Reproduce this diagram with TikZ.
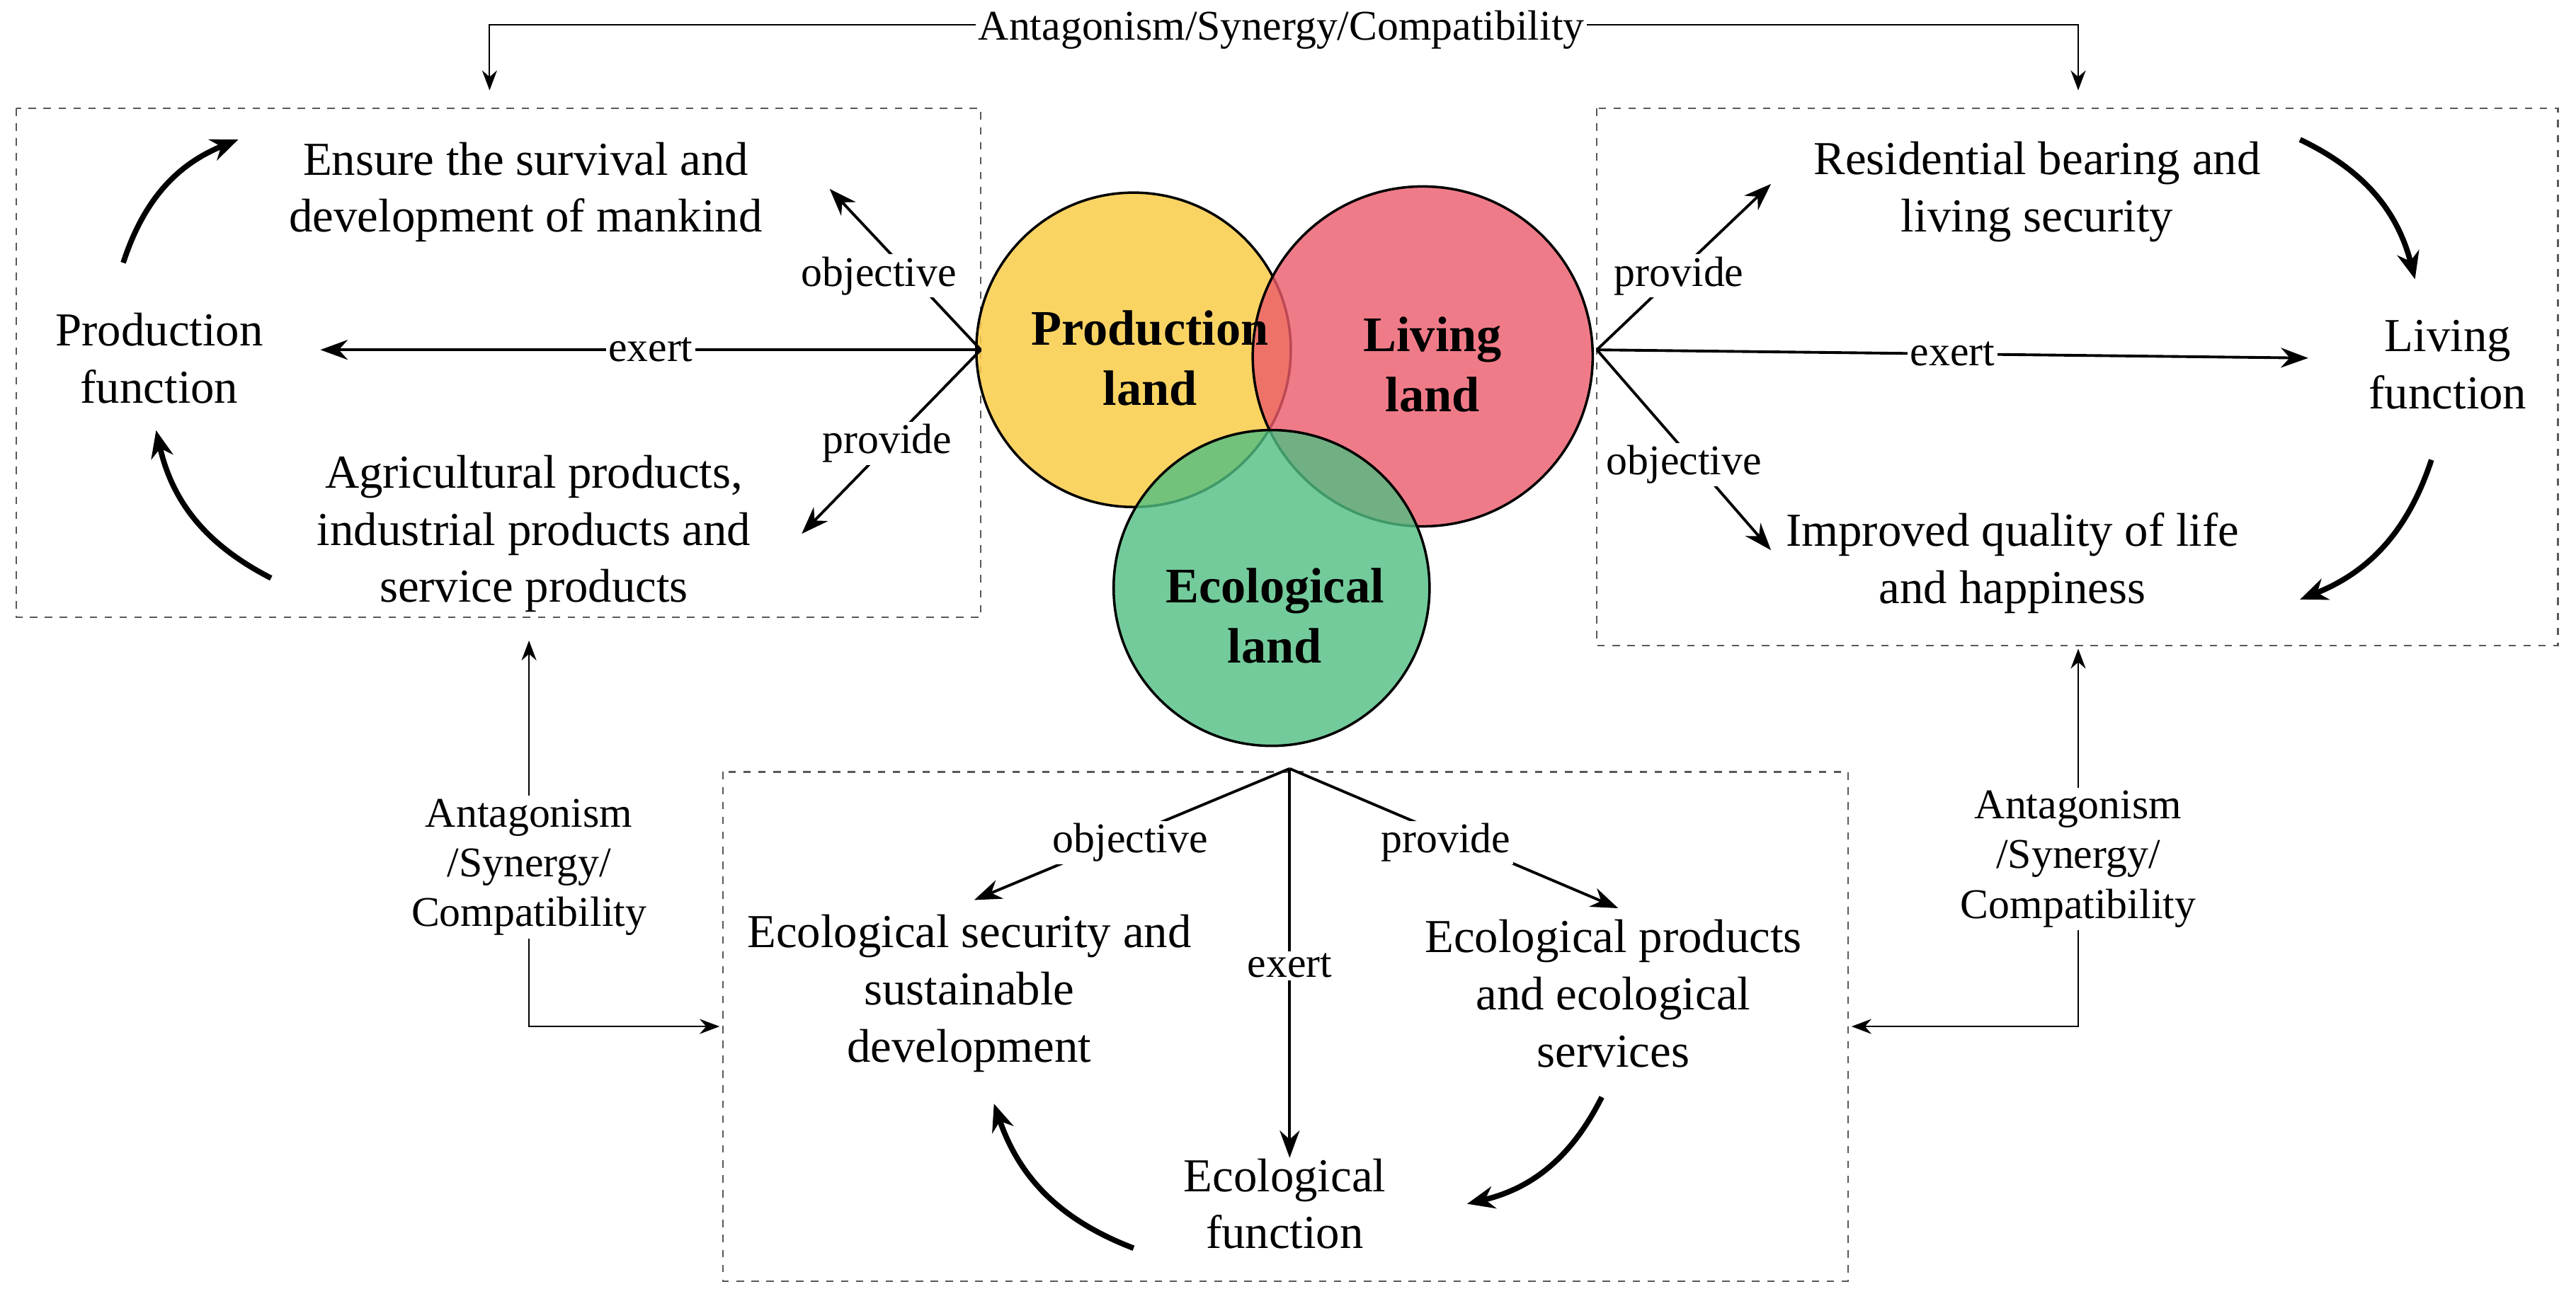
\documentclass[tikz,border=0pt]{standalone}
\usepackage{fontspec}
\setmainfont{Liberation Serif}
\usetikzlibrary{arrows.meta}
\begin{document}
\begin{tikzpicture}[x=0.0232cm,y=-0.0232cm,
  txt/.style={font=\fontsize{19}{23}\selectfont,align=center,inner sep=1pt},
  lbl/.style={font=\fontsize{17}{20}\selectfont,fill=white,inner sep=1pt},
  arr/.style={-{Stealth[length=11pt,width=8pt]},line width=1.1pt},
  thin/.style={-{Stealth[length=8pt,width=6pt]},line width=0.6pt},
  curv/.style={-{Stealth[length=11pt,width=9pt]},line width=2.2pt},
  box/.style={dashed,line width=0.6pt,gray!70!black},
  ctext/.style={font=\fontsize{20}{24}\selectfont\bfseries,align=center}]
\useasboundingbox (0,0) rectangle (1568,795);
% boxes
\draw[box] (10,66) rectangle (597,376);
\draw[box] (972,66) rectangle (1557,393);
\draw[box] (440,470) rectangle (1125,780);
% circles
\draw[black,line width=1pt,fill={rgb,255:red,249;green,204;blue,72},fill opacity=0.85] (690,213) circle[radius=2.22cm];
\draw[black,line width=1pt,fill={rgb,255:red,236;green,90;blue,106},fill opacity=0.8] (866,217) circle[radius=2.4cm];
\draw[black,line width=1pt,fill={rgb,255:red,80;green,190;blue,130},fill opacity=0.8] (774,358) circle[radius=2.23cm];
\node[ctext] (P) at (700,218) {Production\\land};
\node[ctext] (L) at (872,222) {Living\\land};
\node[ctext] (E) at (776,375) {Ecological\\land};
% origins
\coordinate (oL) at (597,213);
\coordinate (oR) at (972,213);
\coordinate (oB) at (785,468);
% left texts
\node[txt] (pf) at (97,218) {Production\\function};
\node[txt] (ens) at (320,117) {Ensure the survival and\\development of mankind};
\node[txt] (agr) at (325,325) {Agricultural products,\\industrial products and\\service products};
\coordinate (lE) at (195,213);\coordinate (lU) at (505,115);\coordinate (lD) at (488,325);
\draw[arr] (oL) -- node[lbl]{exert} (lE);
\draw[arr] (oL) -- (lU);
\draw[arr] (oL) -- (lD);
\node[lbl] at (535,168) {objective};
\node[lbl] at (540,270) {provide};
\draw[curv] (75,160) to[bend left=25] (145,85);
\draw[curv] (165,352) to[bend left=25] (95,262);
% right texts
\node[txt] (lf) at (1490,222) {Living\\function};
\node[txt] (res) at (1240,117) {Residential bearing and\\living security};
\node[txt] (imp) at (1225,343) {Improved quality of life\\and happiness};
\coordinate (rE) at (1405,218);\coordinate (rU) at (1078,112);\coordinate (rD) at (1078,335);
\draw[arr] (oR) -- node[lbl]{exert} (rE);
\draw[arr] (oR) -- (rU);
\draw[arr] (oR) -- (rD);
\node[lbl] at (1022,168) {provide};
\node[lbl] at (1025,283) {objective};
\draw[curv] (1400,85) to[bend left=25] (1470,170);
\draw[curv] (1480,280) to[bend left=25] (1400,365);
% bottom texts
\node[txt] (ef) at (782,733) {Ecological\\function};
\node[txt] (esd) at (590,605) {Ecological security and\\sustainable\\development};
\node[txt] (eps) at (982,605) {Ecological products\\and ecological\\services};
\coordinate (bE) at (785,705);\coordinate (bL) at (593,548);\coordinate (bR) at (985,553);
\draw[arr] (oB) -- (bE);
\node[lbl] at (785,588) {exert};
\draw[arr] (oB) -- (bL);
\draw[arr] (oB) -- (bR);
\node[lbl] at (688,513) {objective};
\node[lbl] at (880,513) {provide};
\draw[curv] (690,760) to[bend left=25] (605,672);
\draw[curv] (975,668) to[bend left=25] (893,733);
% relations
\coordinate (t1) at (298,55);\coordinate (t2) at (1265,55);
\draw[{Stealth[length=8pt,width=6pt]}-{Stealth[length=8pt,width=6pt]},line width=0.6pt] (t1) -- (298,15) -- (1265,15) -- (t2);
\node[lbl] at (780,18) {Antagonism/Synergy/Compatibility};
\node[lbl,align=center] (sl) at (322,528) {Antagonism\\/Synergy/\\Compatibility};
\node[lbl,align=center] (sr) at (1265,523) {Antagonism\\/Synergy/\\Compatibility};
\draw[thin] (sl.north) -- (322,390);
\draw[thin] (sl.south) -- (322,625) -- (438,625);
\draw[thin] (sr.north) -- (1265,395);
\draw[thin] (sr.south) -- (1265,625) -- (1127,625);
\end{tikzpicture}
\end{document}
